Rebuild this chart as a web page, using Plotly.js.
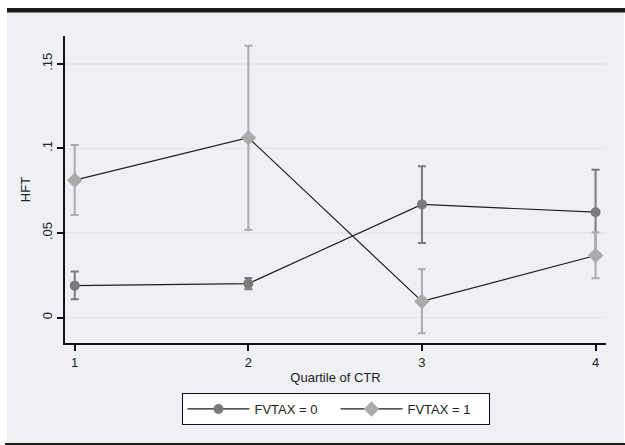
<!DOCTYPE html>
<html>
<head>
<meta charset="utf-8">
<script src="https://cdn.plot.ly/plotly-3.0.1.min.js"></script>
<style>html,body{margin:0;padding:0;background:#fff;}#chart{width:625px;height:445px;}</style>
</head>
<body>
<div id="chart"></div>
<script>
// Data
const quartiles = [1, 2, 3, 4];
const hft0 = [0.0189, 0.0201, 0.0669, 0.0623];      // FVTAX = 0
const hft0Upper = [0.0272, 0.0234, 0.0895, 0.0873];
const hft0Lower = [0.0108, 0.0167, 0.0441, 0.0373];
const hft1 = [0.0812, 0.1063, 0.0096, 0.0367];      // FVTAX = 1
const hft1Upper = [0.1020, 0.1607, 0.0286, 0.0505];
const hft1Lower = [0.0607, 0.0517, -0.0093, 0.0233];
const yTickVals = [0, 0.05, 0.1, 0.15];
const yTickText = ['0', '.05', '.1', '.15'];
const xTickVals = [1, 2, 3, 4];
const seriesNames = ['FVTAX = 0', 'FVTAX = 1'];

const plus = (u, m) => u.map((v, i) => v - m[i]);
const minus = (l, m) => m.map((v, i) => v - l[i]);

const FONT = '"Liberation Sans", Arial, sans-serif';
const dark = '#7a7a7a', light = '#ababab';

const traces = [
  {
    x: quartiles, y: hft0, name: seriesNames[0], type: 'scatter', mode: 'lines+markers',
    line: {color: '#1e1e1e', width: 1.2},
    marker: {symbol: 'circle', size: 10, color: dark},
    error_y: {type: 'data', symmetric: false, array: plus(hft0Upper, hft0), arrayminus: minus(hft0Lower, hft0),
              color: dark, thickness: 2, width: 4}
  },
  {
    x: quartiles, y: hft1, name: seriesNames[1], type: 'scatter', mode: 'lines+markers',
    line: {color: '#1e1e1e', width: 1.2},
    marker: {symbol: 'diamond', size: 12, color: light},
    error_y: {type: 'data', symmetric: false, array: plus(hft1Upper, hft1), arrayminus: minus(hft1Lower, hft1),
              color: light, thickness: 2, width: 4}
  }
];

// pixel -> paper helpers (plot area: x 65..606, y 36..343)
const L = 65, R = 19, T = 36, B = 102, W = 625, H = 445;
const pw = W - L - R, ph = H - T - B;
const px = X => (X - L) / pw;
const py = Y => (H - B - Y) / ph;

const layout = {
  width: W, height: H,
  margin: {l: L, r: R, t: T, b: B, pad: 0},
  paper_bgcolor: '#ffffff',
  plot_bgcolor: '#ffffff',
  font: {family: FONT, size: 13, color: '#222'},
  showlegend: true,
  legend: {
    orientation: 'h', x: 0.5, xanchor: 'center', y: py(393), yanchor: 'top',
    bgcolor: '#ffffff', bordercolor: '#111', borderwidth: 1,
    font: {family: FONT, size: 13, color: '#222'},
    itemwidth: 62, entrywidth: 76, traceorder: 'normal'
  },
  xaxis: {
    range: [0.944, 4.06], tickvals: xTickVals, ticktext: xTickVals.map(String),
    showgrid: false, zeroline: false, showline: true, linecolor: '#111', linewidth: 2,
    ticks: 'outside', ticklen: 6, tickwidth: 2, tickcolor: '#111',
    tickfont: {family: FONT, size: 13, color: '#222'},
    title: {text: 'Quartile of CTR', font: {family: FONT, size: 13, color: '#222'}, standoff: 4}
  },
  yaxis: {
    range: [-0.015, 0.1664], tickvals: yTickVals, ticktext: yTickText, tickangle: -90,
    showgrid: true, gridcolor: '#e4e6e8', gridwidth: 1.5, zeroline: false,
    showline: true, linecolor: '#111', linewidth: 2,
    ticks: 'outside', ticklen: 6, tickwidth: 2, tickcolor: '#111',
    tickfont: {family: FONT, size: 13, color: '#222'},
    title: {text: 'HFT', font: {family: FONT, size: 13, color: '#222'}, standoff: 6}
  },
  shapes: [
    {type: 'rect', xref: 'paper', yref: 'paper', layer: 'below',
     x0: px(7), x1: px(624), y0: py(443), y1: py(12.5), fillcolor: '#eef0f3', line: {width: 0}},
    {type: 'rect', xref: 'paper', yref: 'paper', layer: 'below',
     x0: px(7), x1: px(625), y0: py(12.5), y1: py(8), fillcolor: '#1c1a1a', line: {width: 0}},
    {type: 'rect', xref: 'paper', yref: 'paper', layer: 'below',
     x0: px(5), x1: px(625), y0: py(445), y1: py(443), fillcolor: '#1c1a1a', line: {width: 0}}
  ]
};

Plotly.newPlot('chart', traces, layout, {displayModeBar: false, staticPlot: true});
</script>
</body>
</html>
